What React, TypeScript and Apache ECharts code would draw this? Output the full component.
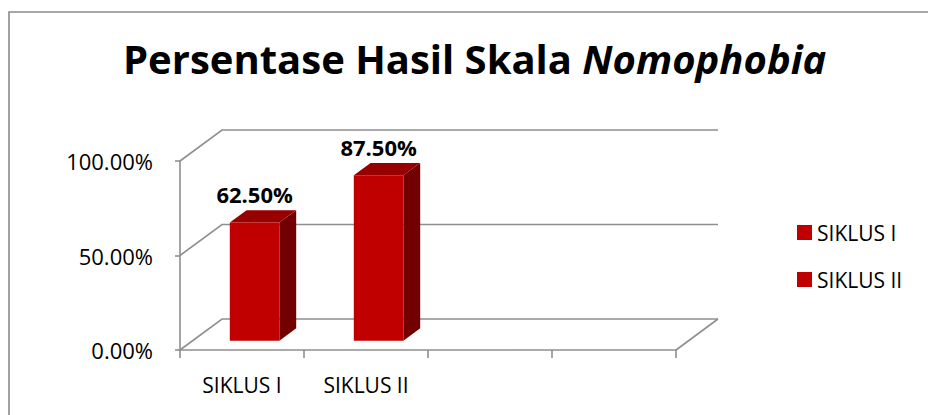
import React, { useEffect, useRef } from "react";
import * as echarts from "echarts";

const categories = ["SIKLUS I", "SIKLUS II", "", ""];
const seriesNames = ["SIKLUS I", "SIKLUS II"];
const seriesValues = [62.5, 87.5];
const yTicks = [0, 50, 100];

const FONT = "Open Sans";
const GRAY = "#8f8f8f";
const DX = 42;
const DY = 31;

export default function App() {
  const ref = useRef<HTMLDivElement>(null);
  useEffect(() => {
    if (!ref.current) return;
    const chart = echarts.init(ref.current, null, { renderer: "svg" });

    const barSeries = seriesNames.map((name, i) => ({
      name,
      type: "custom",
      z: 5,
      itemStyle: { color: "#C00000" },
      data: [[i, seriesValues[i]]],
      renderItem: (params: any, api: any) => {
        const c = api.value(0);
        const v = api.value(1);
        const bw = api.size([1, 0])[0];
        const base = api.coord([c, 0]);
        const topP = api.coord([c, v]);
        const fw = bw * 0.4;
        const cx = base[0] + 0.3 * DX;
        const xl = cx - fw / 2;
        const xr = cx + fw / 2;
        const yb = base[1] - 0.3 * DY;
        const yt = topP[1] - 0.3 * DY;
        const ddx = 0.4 * DX;
        const ddy = 0.4 * DY;
        return {
          type: "group",
          children: [
            {
              type: "polygon",
              shape: { points: [[xr, yt], [xr + ddx, yt - ddy], [xr + ddx, yb - ddy], [xr, yb]] },
              style: { fill: "#720000" },
            },
            {
              type: "polygon",
              shape: { points: [[xl, yt], [xl + ddx, yt - ddy], [xr + ddx, yt - ddy], [xr, yt]] },
              style: { fill: "#980000" },
            },
            {
              type: "polygon",
              shape: { points: [[xl, yt], [xr, yt], [xr, yb], [xl, yb]] },
              style: { fill: "#C00000" },
            },
            {
              type: "text",
              style: {
                x: cx,
                y: yt - ddy - 5,
                text: v.toFixed(2) + "%",
                align: "center",
                verticalAlign: "bottom",
                font: `bold 22px "${FONT}"`,
                fill: "#000",
              },
            },
          ],
        };
      },
    }));

    const wallSeries = {
      name: "wall",
      type: "custom",
      z: 1,
      silent: true,
      data: yTicks.map((t) => [0, t]),
      renderItem: (params: any, api: any) => {
        const v = api.value(1);
        const bw = api.size([1, 0])[0];
        const p0 = api.coord([0, v]);
        const p1 = api.coord([categories.length - 1, v]);
        const left = p0[0] - bw / 2;
        const right = p1[0] + bw / 2;
        const y = p0[1];
        const children: any[] = [
          {
            type: "polyline",
            shape: { points: [[left, y], [left + DX, y - DY], [right + DX, y - DY]] },
            style: { stroke: GRAY, lineWidth: 1.6, fill: "none" },
          },
        ];
        if (v === 0) {
          children.push({
            type: "line",
            shape: { x1: right, y1: y, x2: right + DX, y2: y - DY },
            style: { stroke: GRAY, lineWidth: 1.6 },
          });
        }
        return { type: "group", children };
      },
    };

    chart.setOption({
      animation: false,
      textStyle: { fontFamily: FONT },
      title: {
        left: 118,
        top: 33,
        text: "{a|Persentase Hasil Skala }{b|Nomophobia}",
        textStyle: {
          rich: {
            a: { fontFamily: FONT, fontWeight: "bold", fontSize: 40, color: "#000" },
            b: { fontFamily: FONT, fontWeight: "bold", fontStyle: "italic", fontSize: 40, color: "#000" },
          },
        },
      },
      legend: {
        data: seriesNames,
        orient: "vertical",
        left: 797,
        top: 222,
        padding: 0,
        itemWidth: 15,
        itemHeight: 15,
        itemGap: 26,
        icon: "rect",
        selectedMode: false,
        textStyle: { fontFamily: FONT, fontSize: 21, color: "#000" },
      },
      graphic: [
        {
          type: "rect",
          shape: { x: 9, y: 12, width: 1000, height: 500 },
          style: { fill: "none", stroke: "#8a8a8a", lineWidth: 1.6 },
          silent: true,
        },
      ],
      grid: { left: 180, right: 252, top: 161, bottom: 65, containLabel: false },
      xAxis: {
        type: "category",
        data: categories,
        boundaryGap: true,
        axisLine: { show: true, lineStyle: { color: GRAY, width: 1.6 } },
        axisTick: { show: true, length: 8, alignWithLabel: false, interval: 0, lineStyle: { color: GRAY, width: 1.6 } },
        axisLabel: { interval: 0, fontFamily: FONT, fontSize: 21, color: "#000", margin: 24 },
        splitLine: { show: false },
      },
      yAxis: {
        type: "value",
        min: 0,
        max: 100,
        interval: 50,
        axisLine: { show: true, lineStyle: { color: GRAY, width: 1.6 } },
        axisTick: { show: true, length: 5, lineStyle: { color: GRAY, width: 1.6 } },
        axisLabel: {
          fontFamily: FONT,
          fontSize: 22,
          color: "#000",
          margin: 27,
          formatter: (v: number) => v.toFixed(2) + "%",
        },
        splitLine: { show: false },
      },
      series: [wallSeries, ...barSeries],
    });
    return () => chart.dispose();
  }, []);
  return (
    <div
      ref={ref}
      style={{ position: "fixed", left: 0, top: 0, width: 928, height: 415, background: "#fff" }}
    />
  );
}
